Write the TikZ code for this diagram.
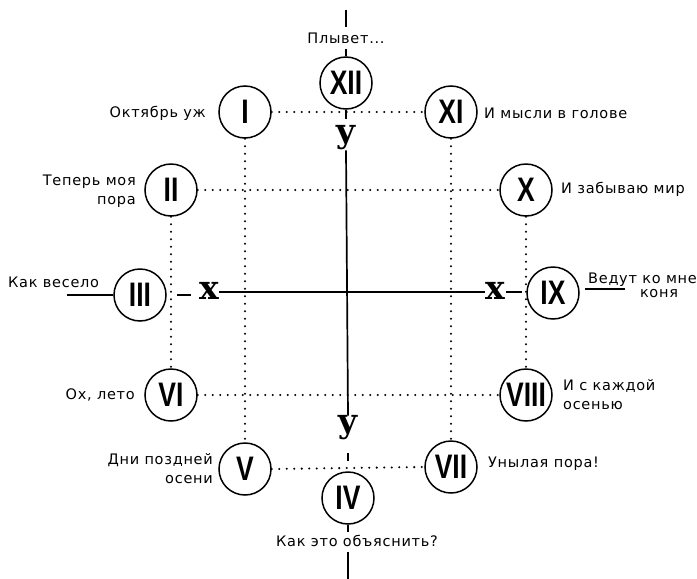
\documentclass[tikz,border=0pt]{standalone}
\usepackage{fontspec}
\newfontfamily\lblf{DejaVu Sans}[LetterSpace=5]
\newfontfamily\rnf{Liberation Sans}
\newfontfamily\axf{DejaVu Serif}
\newcommand\rnum[1]{\scalebox{0.78}[1]{\rnf\bfseries\fontsize{34}{34}\selectfont #1}}
\tikzset{
  circ/.style={circle, draw, line width=1.5pt, minimum size=52pt, inner sep=0pt},
  num/.style={inner sep=0pt},
  lbl/.style={inner sep=0pt, font=\lblf\fontsize{14.5}{19}\selectfont},
  dots/.style={line width=2.3pt, dash pattern=on 0pt off 7.5pt, line cap=round},
  axis/.style={line width=1.7pt},
  axl/.style={inner sep=0pt, font=\axf\bfseries\fontsize{33}{33}\selectfont}
}
\begin{document}
\begin{tikzpicture}[x=1pt,y=-1pt]
\useasboundingbox (0,0) rectangle (697,579);
% circles
\node[circ] (XII) at (346,83) {};
\node[circ] (I) at (245,112) {};
\node[circ] (XI) at (451,112) {};
\node[circ] (II) at (171,190) {};
\node[circ] (X) at (526,190) {};
\node[circ] (III) at (140,295) {};
\node[circ] (IX) at (553,293) {};
\node[circ] (VI) at (171,395) {};
\node[circ] (VIII) at (526,395) {};
\node[circ] (V) at (245,469) {};
\node[circ] (VII) at (451,467) {};
\node[circ] (IV) at (348,498) {};
% numerals
\node[num] (tXII) at (XII) {\rnum{XII}};
\node[num] (tI) at (I) {\rnum{I}};
\node[num] (tXI) at (XI) {\rnum{XI}};
\node[num] (tII) at (II) {\rnum{II}};
\node[num] (tX) at (X) {\rnum{X}};
\node[num] (tIII) at (III) {\rnum{III}};
\node[num] (tIX) at (IX) {\rnum{IX}};
\node[num] (tVI) at (VI) {\rnum{VI}};
\node[num] (tVIII) at (VIII) {\rnum{VIII}};
\node[num] (tV) at (V) {\rnum{V}};
\node[num] (tVII) at (VII) {\rnum{VII}};
\node[num] (tIV) at (IV) {\rnum{IV}};
% dotted grid
\draw[dots] (I.east) -- (XI.west);
\draw[dots] (II.east) -- (X.west);
\draw[dots] (VI.east) -- (VIII.west);
\draw[dots] (V.east) -- (VII.west);
\draw[dots] (I.south) -- (V.north);
\draw[dots] (II.south) -- (VI.north);
\draw[dots] (XI.south) -- (VII.north);
\draw[dots] (X.south) -- (VIII.north);
% labels
\node[lbl] (plyv) at (346,38) {Плывет...};
\node[lbl, anchor=east] (l1) at (206,113) {Октябрь уж};
\node[lbl, anchor=west] (l11) at (484,113) {И мысли в голове};
\node[lbl, anchor=east, align=right] (l2) at (136,191) {Теперь моя\\пора};
\node[lbl, anchor=west] (l10) at (561,189) {И забываю мир};
\node[lbl, anchor=west] (l3) at (8,282) {Как весело};
\node[lbl, anchor=west] (l9a) at (588,280) {Ведут ко мне};
\node[lbl] (l9b) at (659,294) {коня};
\node[lbl, anchor=east] (l6) at (135,395) {Ох, лето};
\node[lbl, anchor=west, align=left] (l8) at (563,395) {И с каждой\\осенью};
\node[lbl, anchor=east, align=right] (l5) at (213,469) {Дни поздней\\осени};
\node[lbl, anchor=west] (l7) at (488,464) {Унылая пора!};
\node[lbl] (l4) at (357,541) {Как это объяснить?};
% axis letters
\node[axl] (xl) at (209,291) {х};
\node[axl] (xr) at (495,291) {х};
\node[axl] (yt) at (346,138) {у};
\node[axl] (yb) at (348,428) {у};
% horizontal axis
\coordinate (hl) at (67,295);
\draw[axis] (hl) -- (III.west);
\draw[axis, shorten <=10pt, shorten >=8pt] (III.east) -- (III.east -| xl.west);
\draw[axis] (xl.east |- 0,292) -- (xr.west |- 0,292);
\draw[axis, shorten <=1pt, shorten >=4pt] (xr.east |- 0,292) -- (IX.west |- 0,292);
\coordinate (hr1) at (585,289);
\coordinate (hr2) at (625,289);
\draw[axis] (hr1) -- (hr2);
% vertical axis
\coordinate (v0) at (346,10);
\coordinate (v1) at (346,27);
\draw[axis] (v0) -- (v1);
\draw[axis, shorten <=5pt] (plyv.south) -- (XII.north);
\coordinate (v2) at (346,119);
\draw[axis] (XII.south) -- (v2);
\draw[axis] (yt.south) -- (yb.north);
\coordinate (v3) at (348,453);
\coordinate (v4) at (348,461);
\draw[axis] (v3) -- (v4);
\coordinate (v5) at (348,532);
\draw[axis] (IV.south) -- (v5);
\coordinate (v6) at (348,552);
\coordinate (v7) at (348,579);
\draw[axis] (v6) -- (v7);
\end{tikzpicture}
\end{document}
